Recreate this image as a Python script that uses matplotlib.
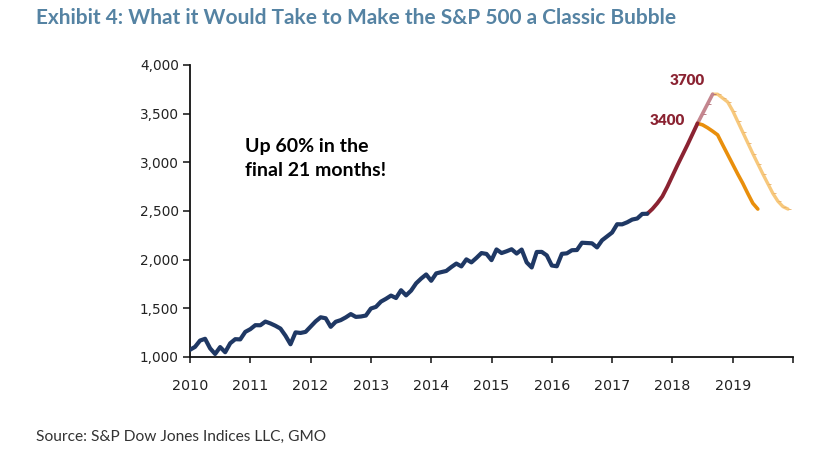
import matplotlib
matplotlib.use("Agg")
import matplotlib.pyplot as plt
import numpy as np

# S&P 500 month-end levels, Jan 2010 .. Aug 2017
sp500 = [
    1074, 1104, 1169, 1187, 1089, 1031, 1102, 1049, 1141, 1183, 1181, 1258,
    1286, 1327, 1326, 1364, 1345, 1321, 1292, 1219, 1131, 1253, 1247, 1258,
    1312, 1366, 1408, 1398, 1310, 1362, 1379, 1407, 1441, 1412, 1416, 1426,
    1498, 1515, 1569, 1598, 1631, 1606, 1686, 1633, 1682, 1757, 1806, 1848,
    1783, 1859, 1872, 1884, 1924, 1960, 1931, 2003, 1972, 2018, 2068, 2059,
    1995, 2105, 2068, 2086, 2107, 2063, 2104, 1972, 1920, 2079, 2080, 2044,
    1940, 1932, 2060, 2065, 2097, 2099, 2174, 2171, 2168, 2126, 2199, 2239,
    2279, 2364, 2363, 2384, 2412, 2423, 2470, 2472,
]
# bubble run-up, Aug 2017 .. Jun 2018
runup = [2472, 2520, 2580, 2650, 2750, 2860, 2970, 3075, 3180, 3290, 3400]
# extra leg to 3700, Jun 2018 .. Sep 2018
runup_ext = [3400, 3500, 3600, 3700]
# bust from 3400, Jun 2018 .. Jun 2019
bust_3400 = [3400, 3385, 3355, 3320, 3282, 3180, 3080, 2980, 2880, 2785, 2680, 2580, 2520]
# bust from 3700, Sep 2018 .. Dec 2019
bust_3700 = [3700, 3700, 3660, 3620, 3530, 3420, 3310, 3200, 3090, 2985, 2880, 2780,
             2680, 2600, 2545, 2520]

years = list(range(2010, 2020))
yticks = [1000, 1500, 2000, 2500, 3000, 3500, 4000]


def months(start_year, start_month, vals):
    # decimal-year x positions for a monthly series
    return start_year + (start_month - 1) / 12 + np.arange(len(vals)) / 12


NAVY = "#1f3864"
DARKRED = "#8b2332"
FADEDRED = "#c4868f"
ORANGE = "#e98f0c"
LIGHTORANGE = "#f7c87c"

fig = plt.figure(figsize=(8.34, 4.55), dpi=100)
ax = fig.add_axes([190 / 834, 1 - 357 / 455, 603 / 834, 292 / 455])

ax.plot(months(2018, 9, bust_3700), bust_3700, color=LIGHTORANGE, lw=2.4,
        solid_capstyle="round", marker=1, ms=2.5, mew=0.6, mec="#eab066", zorder=2)
ax.plot(months(2018, 6, runup_ext), runup_ext, color=FADEDRED, lw=2.6,
        solid_capstyle="round", marker=1, ms=2.5, mew=0.6, mec="#b06c76", zorder=2)
ax.plot(months(2018, 6, bust_3400), bust_3400, color=ORANGE, lw=2.6,
        solid_capstyle="round", zorder=3)
ax.plot(months(2017, 8, runup), runup, color=DARKRED, lw=2.8,
        solid_capstyle="round", zorder=4)
ax.plot(months(2010, 1, sp500), sp500, color=NAVY, lw=3.0,
        solid_joinstyle="round", solid_capstyle="round", zorder=5)

ax.set_xlim(2010, 2020)
ax.set_ylim(1000, 4000)
ax.set_xticks(list(years) + [2020])
ax.set_xticklabels([str(y) for y in years] + [""])
ax.set_yticks(yticks)
ax.set_yticklabels([f"{v:,}" for v in yticks])
ax.tick_params(axis="x", direction="out", length=4, width=1.2, pad=12,
               labelsize=10.3, colors="#222222")
ax.tick_params(axis="y", direction="out", length=5, width=1.2, pad=3,
               labelsize=9.8, colors="#222222")
for s in ["top", "right"]:
    ax.spines[s].set_visible(False)
for s in ["left", "bottom"]:
    ax.spines[s].set_linewidth(1.3)
    ax.spines[s].set_color("#111111")

ax.text(2010.91, 3109, "Up 60% in the", fontfamily="Lato", fontweight="bold",
        fontsize=14, color="black", va="baseline")
ax.text(2010.91, 2862, "final 21 months!", fontfamily="Lato", fontweight="bold",
        fontsize=14, color="black", va="baseline")
ax.text(2018.21, 3384, "3400", fontfamily="Lato", fontweight="heavy",
        fontsize=11, color=DARKRED, ha="right", va="baseline")
ax.text(2018.54, 3795, "3700", fontfamily="Lato", fontweight="heavy",
        fontsize=11, color=DARKRED, ha="right", va="baseline")

fig.text(36 / 834, 1 - 23.5 / 455,
         "Exhibit 4: What it Would Take to Make the S&P 500 a Classic Bubble",
         fontfamily="Lato", fontweight="bold", fontsize=15, color="#5583a3",
         va="baseline")
fig.text(36 / 834, 1 - 441 / 455, "Source: S&P Dow Jones Indices LLC, GMO",
         fontfamily="Lato", fontsize=11.2, color="#333333", va="baseline")

fig.savefig("out.png", dpi=100)
